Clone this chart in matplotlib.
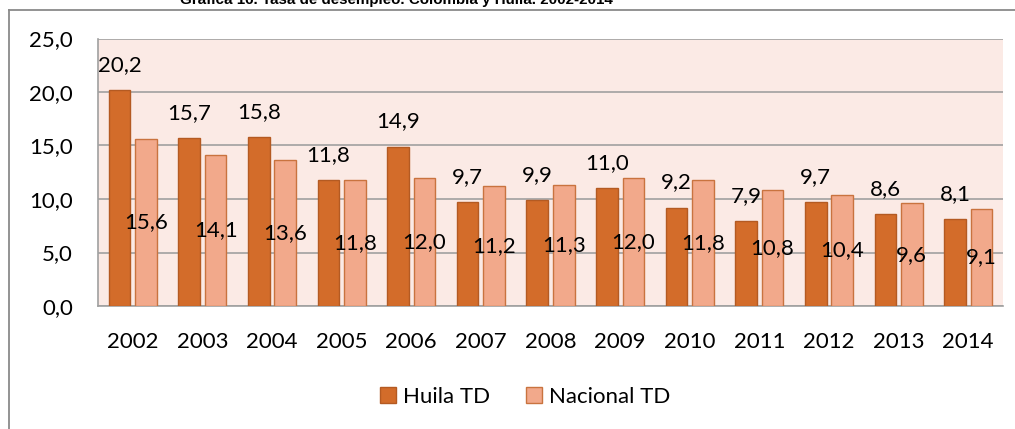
import numpy as np
import matplotlib
matplotlib.use("Agg")
import matplotlib.pyplot as plt
from matplotlib.lines import Line2D

years = ["2002", "2003", "2004", "2005", "2006", "2007", "2008",
         "2009", "2010", "2011", "2012", "2013", "2014"]
huila_td = [20.2, 15.7, 15.8, 11.8, 14.9, 9.7, 9.9, 11.0, 9.2, 7.9, 9.7, 8.6, 8.1]
nacional_td = [15.6, 14.1, 13.6, 11.8, 12.0, 11.2, 11.3, 12.0, 11.8, 10.8, 10.4, 9.6, 9.1]
y_ticks = [0, 5, 10, 15, 20, 25]

plt.rcParams['font.family'] = ['Lato', 'DejaVu Sans']

W, H = 1015, 429
fig = plt.figure(figsize=(W / 100, H / 100), dpi=100)

# outer chart frame (only top and left edges visible)
fig.add_artist(Line2D([9 / W, 1], [1 - 9.5 / H] * 2, color='#8a8a8a', lw=1.3))
fig.add_artist(Line2D([9 / W] * 2, [0, 1 - 9.5 / H], color='#8a8a8a', lw=1.3))

# title, cut off at the top as in the source
fig.text(396 / W, 1 - 4 / H, "Gráfica 16. Tasa de desempleo. Colombia y Huila. 2002-2014",
         ha='center', va='baseline', fontsize=10.9, fontweight='bold',
         family=['Liberation Sans', 'DejaVu Sans'])

ax = fig.add_axes([98 / W, 1 - 306 / H, (1003 - 98) / W, (306 - 38.5) / H])
ax.set_facecolor('#fbeae5')

x = np.arange(len(years))
w = 0.31
off = 0.19
b1 = ax.bar(x - off, huila_td, w, color='#d36c2a', edgecolor='#b45a22', lw=1,
            label='Huila TD', zorder=3)
b2 = ax.bar(x + off, nacional_td, w, color='#f2a98b', edgecolor='#c9733f', lw=1,
            label='Nacional TD', zorder=3)

for xi, v in zip(x, huila_td):
    ax.annotate(f"{v:.1f}".replace('.', ','), (xi - off, v), xytext=(0, 18),
                textcoords='offset points', ha='center', va='center',
                fontsize=16, zorder=5)
for xi, v in zip(x, nacional_td):
    ax.text(xi + off, v / 2, f"{v:.1f}".replace('.', ','), ha='center',
            va='center', fontsize=16, zorder=5)

ax.set_xlim(-0.5, len(years) - 0.5)
ax.set_ylim(0, 25)
ax.set_yticks(y_ticks)
ax.set_yticklabels([f"{t:.1f}".replace('.', ',') for t in y_ticks], fontsize=16)
ax.set_xticks(x)
ax.set_xticklabels(years, fontsize=16)
ax.tick_params(axis='y', length=0, pad=18)
ax.tick_params(axis='x', length=0, pad=19)
ax.grid(axis='y', color='#a0a0a0', lw=1.2, zorder=1)
ax.set_axisbelow(True)
for s in ['top', 'right']:
    ax.spines[s].set_visible(False)
for s in ['left', 'bottom']:
    ax.spines[s].set_color('#a0a0a0')
    ax.spines[s].set_linewidth(1.2)

fig.legend(handles=[b1, b2], loc='center', bbox_to_anchor=(525 / W, 1 - 397 / H),
           ncol=2, frameon=False, fontsize=16, handlelength=0.75, handleheight=0.75,
           handletextpad=0.3, columnspacing=1.6)

fig.savefig("out.png", dpi=100)
